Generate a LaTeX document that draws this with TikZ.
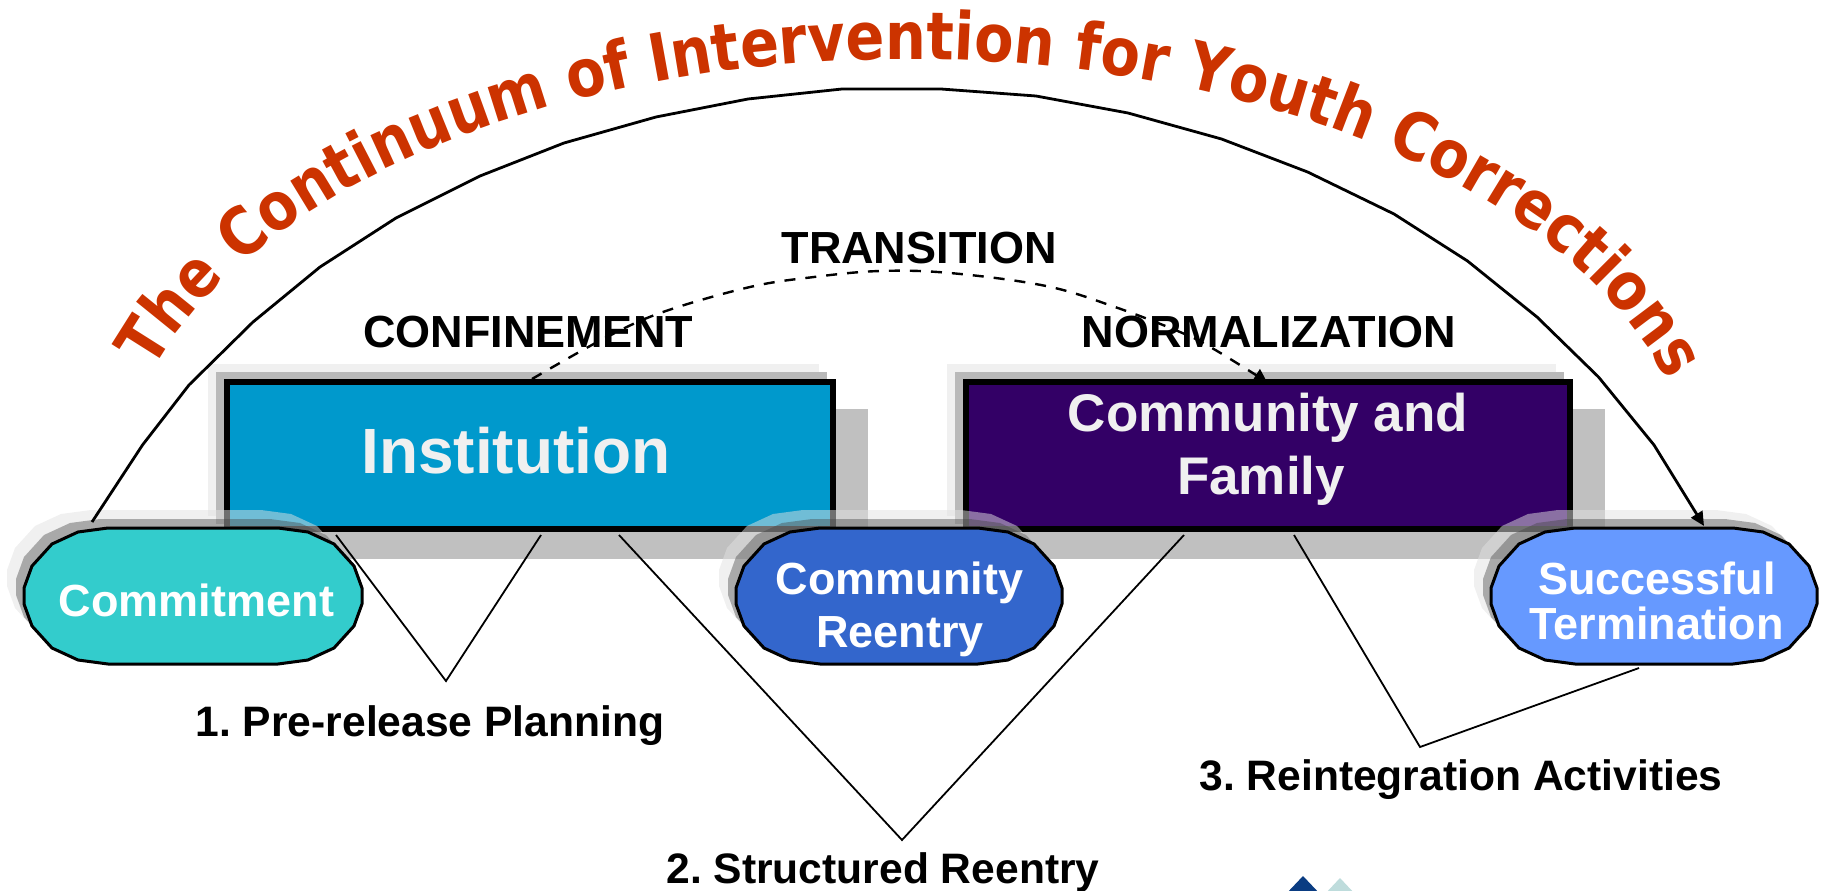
\documentclass[tikz,border=0pt]{standalone}
\usepackage{fontspec}
\setmainfont{Liberation Sans}
\newfontfamily\titlefont[FakeStretch=0.87]{DejaVu Sans}
\usetikzlibrary{decorations.text,arrows.meta,calc}
\definecolor{titlered}{RGB}{204,51,0}
\definecolor{insteal}{RGB}{0,153,204}
\definecolor{purp}{RGB}{51,0,102}
\definecolor{ctteal}{RGB}{51,204,204}
\definecolor{crblue}{RGB}{51,102,204}
\definecolor{stblue}{RGB}{102,153,255}
\definecolor{softtxt}{RGB}{240,240,240}
\definecolor{shadowgrey}{RGB}{192,192,192}
\definecolor{softa}{RGB}{240,240,240}
\definecolor{softb}{RGB}{185,185,185}
\definecolor{softc}{RGB}{225,225,225}
\definecolor{softd}{RGB}{65,65,65}
\definecolor{logoa}{RGB}{10,60,130}
\definecolor{logob}{RGB}{190,220,220}
\newcommand{\ovalpath}[3]{%
  ({#1},{#2+60}) -- ({#1+8},{#2+38}) -- ({#1+28},{#2+16}) -- ({#1+54},{#2+4}) -- ({#1+84},{#2}) --
  ({#1+#3-84},{#2}) -- ({#1+#3-54},{#2+4}) -- ({#1+#3-28},{#2+16}) -- ({#1+#3-8},{#2+38}) -- ({#1+#3},{#2+60}) --
  ({#1+#3},{#2+76}) -- ({#1+#3-8},{#2+98}) -- ({#1+#3-28},{#2+120}) -- ({#1+#3-54},{#2+132}) -- ({#1+#3-84},{#2+136}) --
  ({#1+84},{#2+136}) -- ({#1+54},{#2+132}) -- ({#1+28},{#2+120}) -- ({#1+8},{#2+98}) -- ({#1},{#2+76}) -- cycle}
\newcommand{\ovalshape}[4]{%
  \fill[softc,opacity=.5] \ovalpath{#1-17}{#2-18}{#3};
  \fill[softd,opacity=.4] \ovalpath{#1-8}{#2-9}{#3};
  \filldraw[fill=#4,draw=black,line width=3pt,line join=round] \ovalpath{#1}{#2}{#3};}
\newcommand{\boxshadow}[4]{%
  \fill[softa] ({#1-16},{#2-16}) rectangle ({#3-16},{#4-16});
  \fill[softb] ({#1-8},{#2-8}) rectangle ({#3-8},{#4-8});
  \fill[shadowgrey] ({#1+33},{#2+29}) rectangle ({#3+33},{#4+27});}
\tikzset{
  x=1pt,y=-1pt,
  boxlabel/.style={anchor=base,text=softtxt,font=\bfseries\fontsize{#1}{#1}\selectfont,inner sep=0pt},
  ovallabel/.style={anchor=base,text=white,font=\bfseries\fontsize{45}{45}\selectfont,inner sep=0pt},
  steplabel/.style={anchor=base,text=black,font=\frenchspacing\bfseries\fontsize{42.6}{43}\selectfont,inner sep=0pt},
  toplabel/.style={anchor=base,text=black,font=\bfseries\fontsize{45}{45}\selectfont,inner sep=0pt},
  bigbox/.style={draw=black,line width=6pt,minimum width=606pt,minimum height=147pt,inner sep=0pt},
  thinline/.style={draw=black,line width=1.8pt,line join=miter},
  arcline/.style={draw=black,line width=2.8pt,line join=round},
}
\begin{document}
\begin{tikzpicture}
\useasboundingbox (0,0) rectangle (1825,891);
\clip (0,0) rectangle (1825,891);
% title
\path[postaction={decorate},decoration={text along path,text align={fit to path},
  text={|\titlefont\bfseries\fontsize{66}{66}\selectfont\color{titlered}|The Continuum of Intervention for Youth Corrections}}]
  plot[domain=163:17,samples=90] ({907+789*cos(\x)},{500-441*sin(\x)});
% boxes
\boxshadow{224}{380}{835}{532}
\boxshadow{963}{380}{1572}{532}
\node[bigbox,fill=insteal] (inst) at (529.5,455.5) {};
\node[bigbox,fill=purp,minimum width=604pt] (comm) at (1267.5,455.5) {};
\node[boxlabel=64] (instlab) at (516,473.5) {Institution};
\node[boxlabel=53] (commlab) at (1268,431) {Community and};
\node[boxlabel=53] (famlab) at (1261,494.5) {Family};
% top labels
\node[toplabel] (conf) at (528,347) {CONFINEMENT};
\node[toplabel] (trans) at (919,263) {TRANSITION};
\node[toplabel] (norm) at (1269,347) {NORMALIZATION};
% dashed transition
\coordinate (dashstart) at (532,379);
\coordinate (dashend) at (1267,382);
\draw[black,line width=2.4pt,dash pattern=on 11pt off 10pt,-{Triangle[length=13pt,width=14pt]}] plot[smooth,tension=.6] coordinates {(dashstart) (605,338) (663,312) (750,287) (814,277) (880,271) (950,273) (1046,286) (1115,307) (1180,332) (1212,348) (dashend)};
% ovals
\ovalshape{24}{528}{338}{ctteal}
\ovalshape{736}{528}{326}{crblue}
\ovalshape{1491}{528}{326}{stblue}
\node[ovallabel] (ctlab) at (196.5,616.5) {Commitment};
\node[ovallabel] (crlab1) at (899.5,594) {Community};
\node[ovallabel] (crlab2) at (900,647) {Reentry};
\node[ovallabel] (stlab1) at (1657,594) {Successful};
\node[ovallabel] (stlab2) at (1656.5,639) {Termination};
% outer arc
\coordinate (arcstart) at (92,522);
\coordinate (arcend) at (1704,526);
\draw[arcline,-{Triangle[length=14pt,width=13pt]}] (arcstart) -- (142.5,445) -- (189,385) -- (253,322) -- (320,267) -- (396,218) -- (480,176) -- (564,143) -- (656,117) -- (748,99) -- (842,89) -- (941,89) -- (1036,96) -- (1128,113) -- (1221.5,139) -- (1307.6,172) -- (1394,214) -- (1467.5,261) -- (1537,317) -- (1598.5,377) -- (1654,445) -- (arcend);
% connectors
\coordinate (p1) at (336,535); \coordinate (p2) at (446,681); \coordinate (p3) at (541,535);
\coordinate (s1) at (619,535); \coordinate (s2) at (902,840); \coordinate (s3) at (1184,535);
\coordinate (r1) at (1294,535); \coordinate (r2) at (1420,747); \coordinate (r3) at (1639,668);
\draw[thinline] (p1) -- (p2) -- (p3);
\draw[thinline] (s1) -- (s2) -- (s3);
\draw[thinline] (r1) -- (r2) -- (r3);
\node[steplabel] (l1) at (430,736) {1. Pre-release Planning};
\node[steplabel] (l2) at (883,883) {2. Structured Reentry};
\node[steplabel] (l3) at (1461,790) {3. Reintegration Activities};
% logo fragment
\fill[logoa] (1303,876) -- (1321,895) -- (1285,895) -- cycle;
\fill[logob] (1340,878) -- (1356,895) -- (1324,895) -- cycle;
\end{tikzpicture}
\end{document}
